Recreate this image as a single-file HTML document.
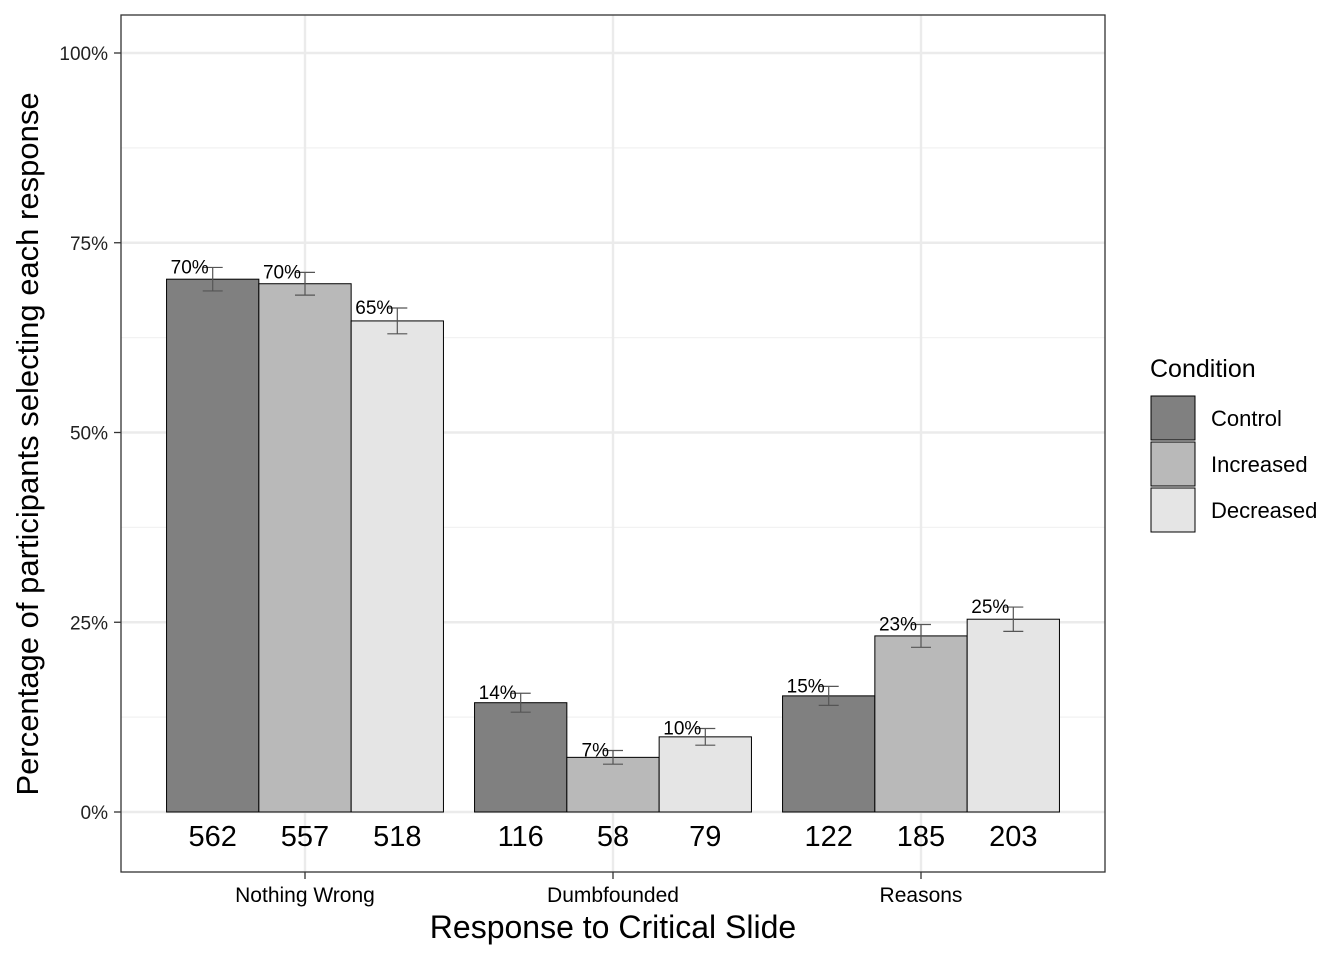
<!DOCTYPE html>
<html><head><meta charset="utf-8"><style>
body{margin:0;background:#fff;font-family:"Liberation Sans",Arial,sans-serif}
</style></head><body>
<svg id="chart" width="1344" height="960" xmlns="http://www.w3.org/2000/svg" font-family="Liberation Sans, Arial, sans-serif">
<rect width="1344" height="960" fill="#fff"/>
<g id="grid"></g>
<g id="bars"></g>
<rect x="121" y="15" width="984" height="857" fill="none" stroke="#333" stroke-width="1.3"/>
<g id="axes"></g>
<text x="613" y="938" text-anchor="middle" font-size="32" fill="#000">Response to Critical Slide</text>
<text transform="translate(38,444) rotate(-90)" text-anchor="middle" font-size="31" fill="#000">Percentage of participants selecting each response</text>
<g id="legend">
<text x="1150" y="377" font-size="25" fill="#000">Condition</text>
</g>
</svg>
<script>
const categories = ["Nothing Wrong","Dumbfounded","Reasons"];
const conditions = ["Control","Increased","Decreased"];
const controlVals = [70.2, 14.4, 15.3];
const increasedVals = [69.6, 7.2, 23.2];
const decreasedVals = [64.7, 9.9, 25.4];
const controlErr = [1.55, 1.25, 1.25];
const increasedErr = [1.5, 0.9, 1.5];
const decreasedErr = [1.7, 1.1, 1.6];
const controlN = [562, 116, 122];
const increasedN = [557, 58, 185];
const decreasedN = [518, 79, 203];
const yTicks = [0, 25, 50, 75, 100];
const yTickLabels = ["0%","25%","50%","75%","100%"];

const fills = ["#808080","#b9b9b9","#e5e5e5"];
const ns = "http://www.w3.org/2000/svg";
const y = v => 812 - v * 7.59;
const groupX = i => 305 + i * 308;
const barW = 92.3;
const mk = (tag, attrs, parent, txt) => { const e = document.createElementNS(ns, tag); for (const k in attrs) e.setAttribute(k, attrs[k]); if (txt !== undefined) e.textContent = txt; parent.appendChild(e); return e; };
const grid = document.getElementById('grid'), bars = document.getElementById('bars'), axes = document.getElementById('axes'), legend = document.getElementById('legend');

for (let i = 0; i < yTicks.length - 1; i++) {
  const m = (yTicks[i] + yTicks[i+1]) / 2;
  const l = mk('line', {x1:121, x2:1105, y1:y(m), y2:y(m), stroke:'#f2f2f2', 'stroke-width':1.2}, grid);
  
  
}
yTicks.forEach((t, i) => {
  const l = mk('line', {x1:121, x2:1105, y1:y(t), y2:y(t), stroke:'#ebebeb', 'stroke-width':2.4}, grid);
  
  
  const tk = mk('line', {x1:114, x2:121, y1:y(t), y2:y(t), stroke:'#333', 'stroke-width':1.3}, axes);
  
  
  const tx = mk('text', {x:108, y:y(t)+7, 'text-anchor':'end', 'font-size':19, fill:'#222'}, axes, yTickLabels[i]);
  
  
});
categories.forEach((c, i) => {
  const l = mk('line', {x1:groupX(i), x2:groupX(i), y1:15, y2:872, stroke:'#ebebeb', 'stroke-width':2.4}, grid);
  
  
  const tk = mk('line', {x1:groupX(i), x2:groupX(i), y1:872, y2:879, stroke:'#333', 'stroke-width':1.3}, axes);
  
  
  const tx = mk('text', {x:groupX(i), y:902, 'text-anchor':'middle', 'font-size':21, fill:'#000'}, axes, c);
  
  
});
const series = [[controlVals, controlErr, controlN], [increasedVals, increasedErr, increasedN], [decreasedVals, decreasedErr, decreasedN]];
series.forEach((s, j) => {
  const [vals, errs, ns_] = s;
  vals.forEach((v, i) => {
    const cx = groupX(i) + (j - 1) * barW;
    const r = mk('rect', {x:cx - barW/2, y:y(v), width:barW, height:y(0)-y(v), fill:fills[j], stroke:'#000', 'stroke-width':1}, bars);
    
    
    const top = y(v + errs[i]), bot = y(v - errs[i]);
    const g = mk('g', {stroke:'#555', 'stroke-width':1.2}, bars);
    
    
    mk('line', {x1:cx, x2:cx, y1:top, y2:bot}, g);
    mk('line', {x1:cx-10, x2:cx+10, y1:top, y2:top}, g);
    mk('line', {x1:cx-10, x2:cx+10, y1:bot, y2:bot}, g);
    const pl = mk('text', {x:cx-4, y:top+6, 'text-anchor':'end', 'font-size':19, fill:'#000'}, bars, Math.round(v) + '%');
    
    
    const nl = mk('text', {x:cx, y:846, 'text-anchor':'middle', 'font-size':29, fill:'#000'}, bars, ns_[i]);
    
    
  });
  const ky = 396 + j * 46;
  const k = mk('rect', {x:1151, y:ky, width:44, height:44, fill:fills[j], stroke:'#000', 'stroke-width':1}, legend);
  
  
  const t = mk('text', {x:1211, y:ky+30, 'font-size':22, fill:'#000'}, legend, conditions[j]);
  
  
});
</script>
</body></html>
